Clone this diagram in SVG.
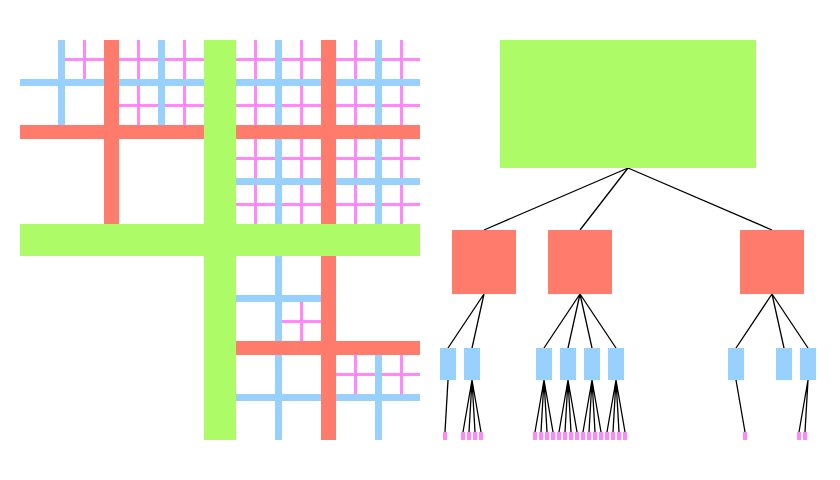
<svg xmlns="http://www.w3.org/2000/svg" width="840" height="480" viewBox="0 0 840 480">
<style>
.g{fill:#adfc67}
.r{fill:#ff7b6b}
.b{fill:#99d1fe}
.p{fill:#ff88fb}
.ln{stroke:#000;stroke-width:1.3;fill:none}
</style>
<rect width="840" height="480" fill="#fff"/>
<g id="partition" shape-rendering="crispEdges">
<g id="level3" class="p">
<rect x="83" y="40" width="3" height="39"/><rect x="65" y="58" width="39" height="3"/>
<rect x="137" y="40" width="3" height="85"/><rect x="183" y="40" width="3" height="85"/>
<rect x="119" y="58" width="85" height="3"/><rect x="119" y="104" width="85" height="3"/>
<rect x="254" y="40" width="3" height="184"/><rect x="300" y="40" width="3" height="184"/>
<rect x="354" y="40" width="3" height="184"/><rect x="400" y="40" width="3" height="184"/>
<rect x="236" y="58" width="184" height="3"/><rect x="236" y="104" width="184" height="3"/>
<rect x="236" y="157" width="184" height="3"/><rect x="236" y="203" width="184" height="3"/>
<rect x="300" y="302" width="3" height="39"/><rect x="282" y="320" width="39" height="3"/>
<rect x="354" y="355" width="3" height="39"/><rect x="400" y="355" width="3" height="39"/>
<rect x="336" y="373" width="84" height="3"/>
</g>
<g id="level2" class="b">
<rect x="58" y="40" width="7" height="85"/><rect x="20" y="79" width="84" height="7"/>
<rect x="158" y="40" width="7" height="85"/><rect x="119" y="79" width="85" height="7"/>
<rect x="275" y="40" width="7" height="184"/><rect x="375" y="40" width="7" height="184"/>
<rect x="236" y="79" width="184" height="7"/><rect x="236" y="178" width="184" height="7"/>
<rect x="275" y="256" width="7" height="184"/>
<rect x="236" y="295" width="85" height="7"/><rect x="236" y="394" width="184" height="7"/>
<rect x="375" y="355" width="7" height="85"/>
</g>
<g id="level1" class="r">
<rect x="104" y="40" width="15" height="184"/><rect x="20" y="125" width="184" height="14"/>
<rect x="321" y="40" width="15" height="184"/><rect x="236" y="125" width="184" height="14"/>
<rect x="321" y="256" width="15" height="184"/><rect x="236" y="341" width="184" height="14"/>
</g>
<g id="level0" class="g">
<rect x="204" y="40" width="32" height="400"/><rect x="20" y="224" width="400" height="32"/>
</g>
</g>
<g id="connectors" class="ln">
<path d="M628 168L484 230M628 168L580 230M628 168L772 230"/>
<path d="M484 294L448 348M484 294L472 348"/>
<path d="M580 294L544 348M580 294L568 348M580 294L592 348M580 294L616 348"/>
<path d="M772 294L736 348M772 294L784 348M772 294L808 348"/>
<path d="M448 380L445 432"/>
<path d="M472 380L463 432M472 380L469 432M472 380L475 432M472 380L481 432"/>
<path d="M544 380L535 432M544 380L541 432M544 380L547 432M544 380L553 432"/>
<path d="M568 380L559 432M568 380L565 432M568 380L571 432M568 380L577 432"/>
<path d="M592 380L583 432M592 380L589 432M592 380L595 432M592 380L601 432"/>
<path d="M616 380L607 432M616 380L613 432M616 380L619 432M616 380L625 432"/>
<path d="M736 380L745 432"/>
<path d="M808 380L799 432M808 380L805 432"/>
</g>
<g id="tree-nodes" shape-rendering="crispEdges">
<g id="n-root" class="g"><rect x="500" y="40" width="256" height="128"/></g>
<g id="n-0" class="r"><rect x="452" y="230" width="64" height="64"/></g>
<g id="n-1" class="r"><rect x="548" y="230" width="64" height="64"/></g>
<g id="n-3" class="r"><rect x="740" y="230" width="64" height="64"/></g>
<g id="n-00" class="b"><rect x="440" y="348" width="16" height="32"/></g>
<g id="n-01" class="b"><rect x="464" y="348" width="16" height="32"/></g>
<g id="n-10" class="b"><rect x="536" y="348" width="16" height="32"/></g>
<g id="n-11" class="b"><rect x="560" y="348" width="16" height="32"/></g>
<g id="n-12" class="b"><rect x="584" y="348" width="16" height="32"/></g>
<g id="n-13" class="b"><rect x="608" y="348" width="16" height="32"/></g>
<g id="n-30" class="b"><rect x="728" y="348" width="16" height="32"/></g>
<g id="n-32" class="b"><rect x="776" y="348" width="16" height="32"/></g>
<g id="n-33" class="b"><rect x="800" y="348" width="16" height="32"/></g>
<g id="leaves" class="p">
<rect x="443" y="432" width="4" height="8"/>
<rect x="461" y="432" width="4" height="8"/><rect x="467" y="432" width="4" height="8"/><rect x="473" y="432" width="4" height="8"/><rect x="479" y="432" width="4" height="8"/>
<rect x="533" y="432" width="4" height="8"/><rect x="539" y="432" width="4" height="8"/><rect x="545" y="432" width="4" height="8"/><rect x="551" y="432" width="4" height="8"/>
<rect x="557" y="432" width="4" height="8"/><rect x="563" y="432" width="4" height="8"/><rect x="569" y="432" width="4" height="8"/><rect x="575" y="432" width="4" height="8"/>
<rect x="581" y="432" width="4" height="8"/><rect x="587" y="432" width="4" height="8"/><rect x="593" y="432" width="4" height="8"/><rect x="599" y="432" width="4" height="8"/>
<rect x="605" y="432" width="4" height="8"/><rect x="611" y="432" width="4" height="8"/><rect x="617" y="432" width="4" height="8"/><rect x="623" y="432" width="4" height="8"/>
<rect x="743" y="432" width="4" height="8"/>
<rect x="797" y="432" width="4" height="8"/><rect x="803" y="432" width="4" height="8"/>
</g>
</g>
</svg>
